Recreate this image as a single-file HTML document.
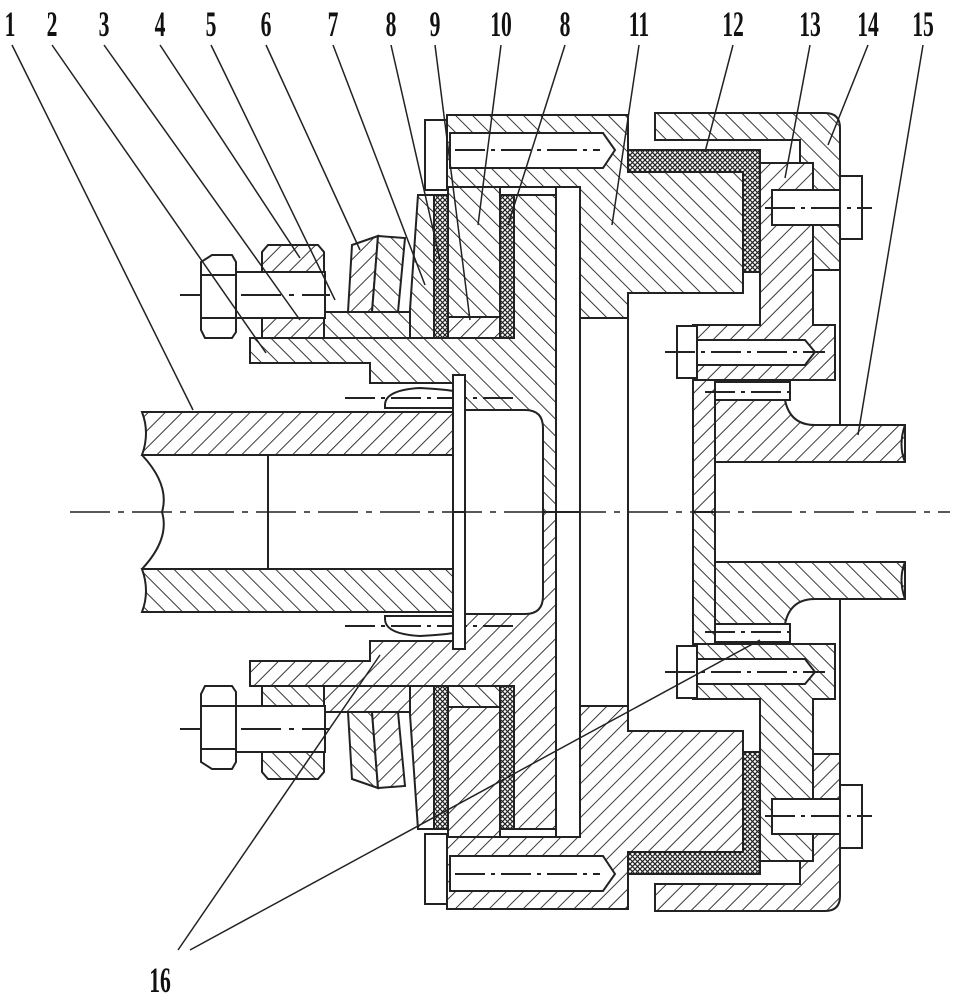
<!DOCTYPE html>
<html><head><meta charset="utf-8"><style>
html,body{margin:0;padding:0;background:#fff;}
svg{display:block;}
text{font-family:"Liberation Serif",serif;font-weight:bold;font-size:36px;fill:#111;}
</style></head><body>
<svg width="954" height="1000" viewBox="0 0 954 1000" xmlns="http://www.w3.org/2000/svg">
<defs>
<pattern id="hA" patternUnits="userSpaceOnUse" width="12" height="12" patternTransform="rotate(45)">
<rect width="12" height="12" fill="#fff"/><line x1="0" y1="0" x2="0" y2="12" stroke="#222" stroke-width="1.8"/></pattern>
<pattern id="hB" patternUnits="userSpaceOnUse" width="12" height="12" patternTransform="rotate(-45)">
<rect width="12" height="12" fill="#fff"/><line x1="0" y1="0" x2="0" y2="12" stroke="#222" stroke-width="1.8"/></pattern>
<pattern id="hC" patternUnits="userSpaceOnUse" width="5" height="5">
<rect width="5" height="5" fill="#fff"/><path d="M0,0L5,5M5,0L0,5" stroke="#222" stroke-width="1.2"/></pattern>
<g id="half" stroke="#222" stroke-width="2">
  <path d="M142,412 H460 V455 H142 Q150,433 142,412 Z" fill="url(#hA)"/>
  <line x1="268" y1="455" x2="268" y2="512"/>
  <path d="M142,455 Q170,485 162,512" fill="none"/>
  <path d="M250,338 H513 V195 H556 V512 H543 V428 Q543,410 525,410 H465 V383 H370 V363 H250 Z" fill="url(#hB)"/>
  <path d="M385,405 Q385,390 420,388 Q455,390 455,392 V408 H385 Z" fill="#fff"/>
  <line x1="345" y1="398" x2="515" y2="398" stroke-dasharray="30,6,4,6"/>
  <rect x="453" y="375" width="12" height="137" fill="#fff"/>
  <rect x="556" y="187" width="24" height="325" fill="#fff"/>
  <path d="M447,115 H628 V172 H743 V293 H628 V318 H580 V187 H447 Z" fill="url(#hB)"/>
  <line x1="628" y1="318" x2="628" y2="512"/>
  <line x1="580" y1="318" x2="580" y2="512"/>
  <rect x="448" y="187" width="52" height="130" fill="url(#hB)"/>
  <rect x="448" y="317" width="52" height="21" fill="url(#hA)"/>
  <rect x="434" y="195" width="14" height="143" fill="url(#hC)"/>
  <rect x="500" y="195" width="14" height="143" fill="url(#hC)"/>
  <path d="M418,195 H434 V338 H408 Z" fill="url(#hB)"/>
  <rect x="425" y="120" width="22" height="70" fill="#fff"/>
  <path d="M450,133 H603 L615,150 L603,168 H450 Z" fill="#fff"/>
  <line x1="455" y1="150" x2="600" y2="150" stroke-dasharray="30,6,4,6"/>
  <rect x="320" y="312" width="90" height="26" fill="url(#hB)"/>
  <path d="M352,245 L378,236 L372,312 H348 Z" fill="url(#hA)"/>
  <path d="M378,236 L405,238 L398,312 H372 Z" fill="url(#hB)"/>
  <path d="M268,245 H318 L324,252 V338 H262 V252 Z" fill="url(#hA)"/>
  <rect x="235" y="272" width="90" height="46" fill="#fff"/>
  <line x1="180" y1="295" x2="330" y2="295" stroke-dasharray="40,8,5,8"/>
  <path d="M212,255 H232 L236,262 V332 L232,338 H205 L201,330 V262 Z" fill="#fff"/>
  <line x1="201" y1="275" x2="236" y2="275"/><line x1="201" y1="318" x2="236" y2="318"/>
  <path d="M628,150 H760 V272 H743 V172 H628 Z" fill="url(#hC)"/>
  <path d="M655,113 H825 Q840,113 840,128 V270 H813 V163 H800 V140 H655 Z" fill="url(#hB)"/>
  <line x1="840" y1="270" x2="840" y2="425"/>
  <line x1="813" y1="270" x2="813" y2="325"/>
  <path d="M760,163 H813 V325 H835 V380 H693 V325 H760 Z" fill="url(#hA)"/>
  <rect x="772" y="190" width="70" height="35" fill="#fff"/>
  <rect x="840" y="176" width="22" height="63" fill="#fff"/>
  <line x1="765" y1="208" x2="872" y2="208" stroke-dasharray="30,6,4,6"/>
  <path d="M697,340 H805 L815,352 L805,365 H697 Z" fill="#fff"/>
  <rect x="677" y="326" width="20" height="52" fill="#fff"/>
  <line x1="665" y1="352" x2="825" y2="352" stroke-dasharray="30,6,4,6"/>
  <rect x="693" y="380" width="22" height="132" fill="url(#hA)"/>
  <path d="M715,400 H785 Q790,425 815,425 H905 V462 H715 Z" fill="url(#hA)"/>
  <path d="M715,382 H790 V400 H715 Z" fill="#fff"/>
  <line x1="705" y1="392" x2="795" y2="392" stroke-dasharray="30,6,4,6"/>
  <path d="M905,425 Q898,445 905,462" fill="none"/>
</g>
</defs>
<rect width="954" height="1000" fill="#fff"/>
<use href="#half"/>
<use href="#half" transform="matrix(1,0,0,-1,0,1024)"/>
<line x1="70" y1="512" x2="950" y2="512" stroke="#222" stroke-width="1.6" stroke-dasharray="40,8,6,8"/>
<g text-anchor="middle">
<text transform="translate(10,36) scale(0.6,1)">1</text>
<text transform="translate(52,36) scale(0.6,1)">2</text>
<text transform="translate(104,36) scale(0.6,1)">3</text>
<text transform="translate(160,36) scale(0.6,1)">4</text>
<text transform="translate(211,36) scale(0.6,1)">5</text>
<text transform="translate(266,36) scale(0.6,1)">6</text>
<text transform="translate(333,36) scale(0.6,1)">7</text>
<text transform="translate(391,36) scale(0.6,1)">8</text>
<text transform="translate(435,36) scale(0.6,1)">9</text>
<text transform="translate(501,36) scale(0.6,1)">10</text>
<text transform="translate(565,36) scale(0.6,1)">8</text>
<text transform="translate(639,36) scale(0.6,1)">11</text>
<text transform="translate(733,36) scale(0.6,1)">12</text>
<text transform="translate(810,36) scale(0.6,1)">13</text>
<text transform="translate(868,36) scale(0.6,1)">14</text>
<text transform="translate(923,36) scale(0.6,1)">15</text>
<text transform="translate(160,992) scale(0.6,1)">16</text>
</g>
<g stroke="#222" stroke-width="1.5" fill="none">
<line x1="12" y1="45" x2="193" y2="410"/>
<line x1="52" y1="45" x2="266" y2="353"/>
<line x1="104" y1="45" x2="300" y2="320"/>
<line x1="160" y1="45" x2="300" y2="258"/>
<line x1="211" y1="45" x2="335" y2="300"/>
<line x1="266" y1="45" x2="360" y2="250"/>
<line x1="333" y1="45" x2="425" y2="285"/>
<line x1="391" y1="45" x2="440" y2="260"/>
<line x1="435" y1="45" x2="470" y2="320"/>
<line x1="501" y1="45" x2="478" y2="225"/>
<line x1="565" y1="45" x2="508" y2="225"/>
<line x1="639" y1="45" x2="612" y2="225"/>
<line x1="733" y1="45" x2="705" y2="152"/>
<line x1="810" y1="45" x2="785" y2="178"/>
<line x1="868" y1="45" x2="828" y2="145"/>
<line x1="923" y1="45" x2="858" y2="435"/>
<line x1="178" y1="950" x2="380" y2="655"/>
<line x1="190" y1="950" x2="760" y2="640"/>
</g>
</svg>
</body></html>
